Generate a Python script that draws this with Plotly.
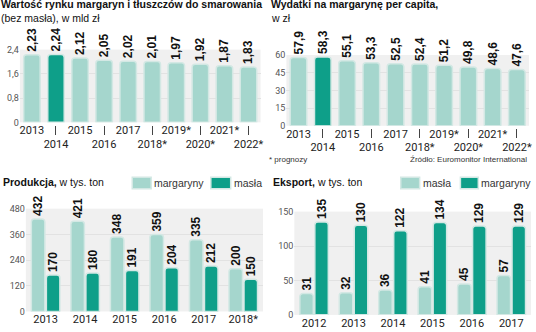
import plotly.graph_objects as go

# ---------------- data ----------------
market_years = ["2013", "2014", "2015", "2016", "2017", "2018*", "2019*", "2020*", "2021*", "2022*"]
market_value = [2.23, 2.24, 2.12, 2.05, 2.02, 2.01, 1.97, 1.92, 1.87, 1.83]          # mld zł
spend_per_capita = [57.9, 58.3, 55.1, 53.3, 52.5, 52.4, 51.2, 49.8, 48.6, 47.6]     # zł

prod_years = ["2013", "2014", "2015", "2016", "2017", "2018*"]
prod_margarine = [432, 421, 348, 359, 335, 200]
prod_butter = [170, 180, 191, 204, 212, 150]

export_years = ["2012", "2013", "2014", "2015", "2016", "2017"]
export_butter = [31, 32, 36, 41, 45, 57]
export_margarine = [135, 130, 122, 134, 129, 129]

market_ticks = [0, 0.8, 1.6, 2.4]
market_tick_text = ["0", "0,8", "1,6", "2,4"]
spend_ticks = [0, 15, 30, 45, 60]
prod_ticks = [0, 120, 240, 360, 480]
export_ticks = [0, 50, 100, 150]
highlight_year = "2014"

# ---------------- style ----------------
W, H = 536, 332
LIGHT = "#a5d6cd"
DARK = "#0e9f89"
EDGE = "#d3e8e4"
PANEL = "#f0f0f0"
GRID = "#e2e2e2"
TXT = "Liberation Sans, Arial, sans-serif"
SANS = "Roboto, Liberation Sans, sans-serif"


def fx(px):
    return px / W


def fy(px):
    return 1 - px / H


def pl(v, nd):
    return f"{v:.{nd}f}".replace(".", ",")


bar_style = dict(
    textposition="outside",
    textangle=-90,
    constraintext="none",
    cliponaxis=False,
    textfont=dict(family=TXT, size=12, color="#111", weight="bold"),
    hoverinfo="skip",
)

fig = go.Figure()

idx = list(range(len(market_years)))
colors = [DARK if y == highlight_year else LIGHT for y in market_years]

# top-left: market value
fig.add_trace(go.Bar(
    x=idx, y=market_value, xaxis="x", yaxis="y",
    marker=dict(color=colors, line=dict(color=EDGE, width=1.5)),
    text=[pl(v, 2) for v in market_value], showlegend=False, **bar_style))
# invisible companion so the second (staggered) year axis gets drawn
fig.add_trace(go.Scatter(x=idx, y=market_value, xaxis="x5", yaxis="y",
                         mode="markers", marker=dict(opacity=0), showlegend=False,
                         hoverinfo="skip"))

# top-right: spending per capita
fig.add_trace(go.Bar(
    x=idx, y=spend_per_capita, xaxis="x2", yaxis="y2",
    marker=dict(color=colors, line=dict(color=EDGE, width=1.5)),
    text=[pl(v, 1) for v in spend_per_capita], showlegend=False, **bar_style))
fig.add_trace(go.Scatter(x=idx, y=spend_per_capita, xaxis="x6", yaxis="y2",
                         mode="markers", marker=dict(opacity=0), showlegend=False,
                         hoverinfo="skip"))

# bottom-left: production
fig.add_trace(go.Bar(
    x=prod_years, y=prod_margarine, xaxis="x3", yaxis="y3", name="margaryny",
    marker=dict(color=LIGHT, line=dict(color=EDGE, width=1.5)),
    text=[str(v) for v in prod_margarine], showlegend=False, offsetgroup="a", **bar_style))
fig.add_trace(go.Bar(
    x=prod_years, y=prod_butter, xaxis="x3", yaxis="y3", name="masła",
    marker=dict(color=DARK, line=dict(color=EDGE, width=1.5)),
    text=[str(v) for v in prod_butter], showlegend=False, offsetgroup="b", **bar_style))

# bottom-right: export
fig.add_trace(go.Bar(
    x=export_years, y=export_butter, xaxis="x4", yaxis="y4", name="masła",
    marker=dict(color=LIGHT, line=dict(color=EDGE, width=1.5)),
    text=[str(v) for v in export_butter], showlegend=False, offsetgroup="a", **bar_style))
fig.add_trace(go.Bar(
    x=export_years, y=export_margarine, xaxis="x4", yaxis="y4", name="margaryny",
    marker=dict(color=DARK, line=dict(color=EDGE, width=1.5)),
    text=[str(v) for v in export_margarine], showlegend=False, offsetgroup="b", **bar_style))

ytick_font = dict(family=SANS, size=9, color="#555")
xtick_font = dict(family=SANS, size=11, color="#222")

even = [i for i in idx if i % 2 == 0]
odd = [i for i in idx if i % 2 == 1]


def y_axis(domain, anchor, rng, tickvals, ticktext=None):
    d = dict(domain=domain, anchor=anchor, range=rng, tickvals=tickvals,
             showgrid=True, gridcolor=GRID, gridwidth=1, zeroline=False,
             showline=False, ticks="", tickfont=ytick_font, fixedrange=True)
    if ticktext is not None:
        d["ticktext"] = ticktext
    return d


def cat_axis_even(domain, anchor):
    return dict(domain=domain, anchor=anchor, range=[-0.5, len(idx) - 0.5],
                tickvals=even, ticktext=[market_years[i] for i in even],
                showgrid=False, zeroline=False, showline=False, ticks="",
                tickfont=xtick_font, fixedrange=True)


def cat_axis_odd(over, pos):
    return dict(overlaying=over, anchor="free", position=pos,
                range=[-0.5, len(idx) - 0.5],
                tickvals=odd, ticktext=[market_years[i] for i in odd],
                showgrid=False, zeroline=False, showline=False,
                ticks="outside", ticklen=9, tickwidth=1, tickcolor="#444",
                tickfont=xtick_font, fixedrange=True)


fig.update_layout(
    width=W, height=H,
    margin=dict(l=0, r=0, t=0, b=0),
    paper_bgcolor="white",
    plot_bgcolor=PANEL,
    barmode="group",
    bargap=0.24,
    bargroupgap=0.1,
    barcornerradius=3,
    showlegend=False,
    # top-left
    xaxis=cat_axis_even([fx(20), fx(262)], "y"),
    yaxis=y_axis([fy(121), fy(46)], "x", [0, 2.4], market_ticks, market_tick_text),
    xaxis5=cat_axis_odd("x", fy(124)),
    # top-right
    xaxis2=cat_axis_even([fx(288), fx(532)], "y2"),
    yaxis2=y_axis([fy(124.5), fy(51.5)], "x2", [0, 60], spend_ticks),
    xaxis6=cat_axis_odd("x2", fy(127)),
    # bottom-left
    xaxis3=dict(domain=[fx(26), fx(264.5)], anchor="y3", type="category",
                showgrid=False, zeroline=False, showline=False, ticks="",
                tickfont=xtick_font, fixedrange=True),
    yaxis3=y_axis([fy(316), fy(210)], "x3", [0, 480], prod_ticks),
    # bottom-right
    xaxis4=dict(domain=[fx(296), fx(534)], anchor="y4", type="category",
                showgrid=False, zeroline=False, showline=False, ticks="",
                tickfont=xtick_font, fixedrange=True),
    yaxis4=y_axis([fy(319.5), fy(213)], "x4", [0, 150], export_ticks),
)


def note(text, x, y, size=10.5, color="#111", anchor="left"):
    fig.add_annotation(text=text, x=fx(x), y=fy(y), xref="paper", yref="paper",
                       xanchor=anchor, yanchor="middle", showarrow=False,
                       font=dict(family=TXT, size=size, color=color))


# titles
note("<b>Wartość rynku margaryn i tłuszczów do smarowania</b>", -1, -1)
note("(bez masła), w mld zł", -1, 13)
note("<b>Wydatki na margarynę per capita,</b>", 271, -1)
note("w zł", 271, 13)
note("<b>Produkcja,</b> w tys. ton", 1, 182, size=10.5)
note("<b>Eksport,</b> w tys. ton", 273, 182, size=10.5)
note("* prognozy", 269, 159, size=8, color="#333")
note("Źródło: Euromonitor International", 532, 159, size=8, color="#333", anchor="right")


# legends (swatch + label)
def legend_item(x0, x1, color, label):
    fig.add_shape(type="rect", xref="paper", yref="paper",
                  x0=fx(x0), x1=fx(x1), y0=fy(189.5), y1=fy(177.5),
                  fillcolor=color, line=dict(color=EDGE, width=1.5))
    note(label, x1 + 1, 183.5, size=10.5, color="#333")


legend_item(133, 152, LIGHT, "margaryny")
legend_item(212, 232, DARK, "masła")
legend_item(403, 422, LIGHT, "masła")
legend_item(463, 481, DARK, "margaryny")

fig.write_html("out.html")
